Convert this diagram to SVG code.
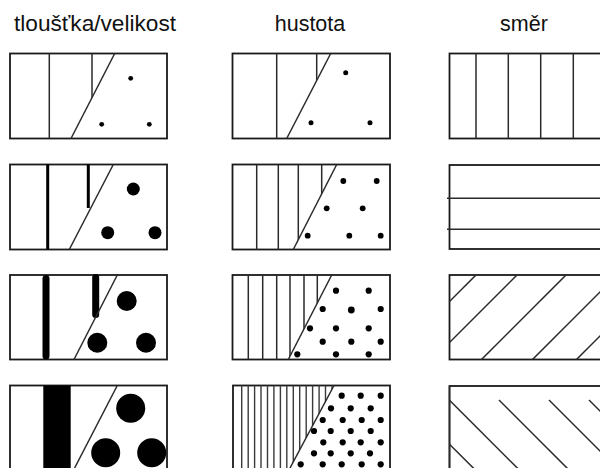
<svg xmlns="http://www.w3.org/2000/svg" width="600" height="468" viewBox="0 0 600 468">
<style>
.box{fill:none;stroke:#1a1a1a;stroke-width:1.8}
.ln{stroke:#2a2a2a;stroke-width:1.5;fill:none}
.dot{fill:#000}
.hd{font-family:"Liberation Sans",Arial,sans-serif;font-size:21.5px;fill:#111;text-anchor:middle}
</style>
<defs>
<clipPath id="c11"><polygon points="10,53.5 114.7,53.5 71,138.5 10,138.5"/></clipPath>
<clipPath id="c12"><polygon points="10,164.5 113.3,164.5 69.3,249.5 10,249.5"/></clipPath>
<clipPath id="c13"><polygon points="10,275 117.3,275 74,359.5 10,359.5"/></clipPath>
<clipPath id="c21"><polygon points="232.5,53.5 330.7,53.5 286.7,138.5 232.5,138.5"/></clipPath>
<clipPath id="c22"><polygon points="232.5,164.5 336.7,164.5 293.3,249.5 232.5,249.5"/></clipPath>
<clipPath id="c23"><polygon points="232.5,275 331.7,275 288.3,359.5 232.5,359.5"/></clipPath>
<clipPath id="c24"><polygon points="233,385.5 334,385.5 290,468 233,468"/></clipPath>
<clipPath id="c33"><rect x="449.5" y="275" width="157" height="84.5"/></clipPath>
<clipPath id="c34"><rect x="449.5" y="386" width="157" height="90"/></clipPath>
</defs>
<text class="hd" x="95" y="31" textLength="162" lengthAdjust="spacingAndGlyphs">tloušťka/velikost</text>
<text class="hd" x="310" y="31">hustota</text>
<text class="hd" x="524" y="31">směr</text>

<g id="tl1">
<rect class="box" x="10" y="53.5" width="157" height="85"/>
<g clip-path="url(#c11)"><line class="ln" x1="49.3" y1="53" x2="49.3" y2="139"/><line class="ln" x1="92" y1="53" x2="92" y2="139"/></g>
<line class="ln" x1="114.7" y1="53.5" x2="71" y2="138.5"/>
<circle class="dot" cx="130.7" cy="78.3" r="2.4"/><circle class="dot" cx="101.7" cy="124.3" r="2.4"/><circle class="dot" cx="149.3" cy="124.3" r="2.4"/>
</g>
<g id="tl2">
<rect class="box" x="10" y="164.5" width="157" height="85"/>
<line style="stroke:#000;stroke-width:3" x1="47.7" y1="164.5" x2="47.7" y2="249.5"/>
<line style="stroke:#000;stroke-width:3" x1="88.3" y1="164.5" x2="88.3" y2="208"/>
<line class="ln" x1="113.3" y1="164.5" x2="69.3" y2="249.5"/>
<circle class="dot" cx="133.3" cy="189" r="6.5"/><circle class="dot" cx="107.7" cy="232.7" r="6.5"/><circle class="dot" cx="155" cy="232.7" r="6.5"/>
</g>
<g id="tl3">
<rect class="box" x="10" y="275" width="157" height="84.5"/>
<rect x="42.5" y="275" width="7" height="84.5" rx="3.5" fill="#000"/>
<rect x="92.2" y="274" width="7" height="44" rx="3.5" fill="#000"/>
<line class="ln" x1="117.3" y1="275" x2="74" y2="359.5"/>
<circle class="dot" cx="126.7" cy="301" r="10"/><circle class="dot" cx="97.3" cy="342.7" r="10"/><circle class="dot" cx="146" cy="342.7" r="10"/>
</g>
<g id="tl4">
<rect class="box" x="10" y="385.5" width="157" height="90"/>
<rect x="43.3" y="385.5" width="27.4" height="90" fill="#000"/>
<line class="ln" x1="117.3" y1="385.5" x2="74.6" y2="468"/>
<circle class="dot" cx="130.7" cy="408.3" r="14.5"/><circle class="dot" cx="105.7" cy="452.7" r="14.5"/><circle class="dot" cx="151.7" cy="452.7" r="14.5"/>
</g>

<g id="hu1">
<rect class="box" x="232.5" y="53.5" width="157.5" height="85"/>
<g clip-path="url(#c21)"><line class="ln" x1="276.7" y1="53" x2="276.7" y2="140"/><line class="ln" x1="316.7" y1="53" x2="316.7" y2="140"/></g>
<line class="ln" x1="330.7" y1="53.5" x2="286.7" y2="138.5"/>
<circle class="dot" cx="345.7" cy="72.7" r="2.5"/><circle class="dot" cx="311" cy="122.7" r="2.5"/><circle class="dot" cx="370" cy="122.7" r="2.5"/>
</g>
<g id="hu2">
<rect class="box" x="232.5" y="164.5" width="157.5" height="85"/>
<g clip-path="url(#c22)"><line class="ln" x1="256.7" y1="164" x2="256.7" y2="250"/><line class="ln" x1="278.3" y1="164" x2="278.3" y2="250"/><line class="ln" x1="298.3" y1="164" x2="298.3" y2="250"/><line class="ln" x1="321.7" y1="164" x2="321.7" y2="250"/></g>
<line class="ln" x1="336.7" y1="164.5" x2="293.3" y2="249.5"/>
<circle class="dot" cx="343.3" cy="181" r="2.9"/><circle class="dot" cx="376.7" cy="181" r="2.9"/><circle class="dot" cx="326.7" cy="208.3" r="2.9"/><circle class="dot" cx="362.7" cy="208.3" r="2.9"/><circle class="dot" cx="307.7" cy="235.7" r="2.9"/><circle class="dot" cx="349.3" cy="235.7" r="2.9"/><circle class="dot" cx="380.7" cy="235.7" r="2.9"/>
</g>
<g id="hu3">
<rect class="box" x="232.5" y="275" width="157.5" height="84.5"/>
<g clip-path="url(#c23)"><line class="ln" x1="248.3" y1="275" x2="248.3" y2="360"/><line class="ln" x1="262.7" y1="275" x2="262.7" y2="360"/><line class="ln" x1="276.7" y1="275" x2="276.7" y2="360"/><line class="ln" x1="290" y1="275" x2="290" y2="360"/><line class="ln" x1="304" y1="275" x2="304" y2="360"/><line class="ln" x1="317.3" y1="275" x2="317.3" y2="360"/></g>
<line class="ln" x1="331.7" y1="275" x2="288.3" y2="359.5"/>
<circle class="dot" cx="336" cy="290.7" r="3.1"/><circle class="dot" cx="368.7" cy="290.7" r="3.1"/><circle class="dot" cx="322.7" cy="309" r="3.1"/><circle class="dot" cx="351.3" cy="310" r="3.4"/><circle class="dot" cx="380.7" cy="309" r="3.1"/><circle class="dot" cx="310" cy="328.3" r="3.1"/><circle class="dot" cx="336" cy="328.3" r="3.1"/><circle class="dot" cx="368.7" cy="328.3" r="3.1"/><circle class="dot" cx="322.7" cy="341.7" r="3.1"/><circle class="dot" cx="351.3" cy="341.7" r="3.1"/><circle class="dot" cx="380.7" cy="341.7" r="3.1"/><circle class="dot" cx="297.3" cy="354.3" r="3.1"/><circle class="dot" cx="336" cy="354.3" r="3.1"/><circle class="dot" cx="368.7" cy="354.3" r="3.1"/>
</g>
<g id="hu4">
<rect class="box" x="233" y="385.5" width="157" height="90"/>
<g clip-path="url(#c24)" class="ln" style="stroke-width:1.4;stroke:#3a3a3a">
<line x1="241.7" y1="385" x2="241.7" y2="470"/><line x1="248.2" y1="385" x2="248.2" y2="470"/><line x1="254.6" y1="385" x2="254.6" y2="470"/><line x1="261" y1="385" x2="261" y2="470"/><line x1="267.5" y1="385" x2="267.5" y2="470"/><line x1="273.9" y1="385" x2="273.9" y2="470"/><line x1="280.4" y1="385" x2="280.4" y2="470"/><line x1="286.8" y1="385" x2="286.8" y2="470"/><line x1="293.3" y1="385" x2="293.3" y2="470"/><line x1="299.7" y1="385" x2="299.7" y2="470"/><line x1="306.2" y1="385" x2="306.2" y2="470"/><line x1="312.6" y1="385" x2="312.6" y2="470"/><line x1="319.1" y1="385" x2="319.1" y2="470"/><line x1="325.5" y1="385" x2="325.5" y2="470"/><line x1="332" y1="385" x2="332" y2="470"/>
</g>
<line class="ln" x1="334" y1="385.5" x2="290" y2="468"/>
<g class="dot">
<circle cx="341.7" cy="395.7" r="3.1"/><circle cx="360.7" cy="395.7" r="3.1"/><circle cx="380.7" cy="395.7" r="3.1"/>
<circle cx="331" cy="408.3" r="3.1"/><circle cx="350.7" cy="408.3" r="3.1"/><circle cx="370.7" cy="408.3" r="3.1"/>
<circle cx="322.7" cy="420" r="3.1"/><circle cx="342.7" cy="420" r="3.1"/><circle cx="361.7" cy="420" r="3.1"/><circle cx="380.7" cy="420" r="3.1"/>
<circle cx="314" cy="431" r="3.1"/><circle cx="330.7" cy="431" r="3.1"/><circle cx="350.7" cy="431" r="3.1"/><circle cx="370.7" cy="431" r="3.1"/>
<circle cx="323.3" cy="442.3" r="3.1"/><circle cx="342.7" cy="442.3" r="3.1"/><circle cx="360.7" cy="442.3" r="3.1"/><circle cx="380.7" cy="442.3" r="3.1"/>
<circle cx="314" cy="453.3" r="3.1"/><circle cx="330.7" cy="453.3" r="3.1"/><circle cx="350.7" cy="453.3" r="3.1"/><circle cx="370" cy="453.3" r="3.1"/>
<circle cx="300.7" cy="464.3" r="3.1"/><circle cx="322.7" cy="464.3" r="3.1"/><circle cx="341.7" cy="464.3" r="3.1"/><circle cx="361.7" cy="464.3" r="3.1"/><circle cx="380.7" cy="464.3" r="3.1"/>
</g>
</g>

<g id="sm1">
<rect class="box" x="449.5" y="53.5" width="157" height="85"/>
<line class="ln" x1="476" y1="53.5" x2="476" y2="138.5"/><line class="ln" x1="508.3" y1="53.5" x2="508.3" y2="138.5"/><line class="ln" x1="540.7" y1="53.5" x2="540.7" y2="138.5"/><line class="ln" x1="573.3" y1="53.5" x2="573.3" y2="138.5"/>
</g>
<g id="sm2">
<rect class="box" x="449.5" y="165" width="157" height="84"/>
<line class="ln" x1="447" y1="198.3" x2="607" y2="198.3"/><line class="ln" x1="447" y1="229.3" x2="607" y2="229.3"/>
</g>
<g id="sm3">
<rect class="box" x="449.5" y="275" width="157" height="84.5"/>
<g clip-path="url(#c33)">
<line class="ln" x1="351" y1="400" x2="551" y2="200"/><line class="ln" x1="392" y1="400" x2="592" y2="200"/><line class="ln" x1="441" y1="400" x2="641" y2="200"/><line class="ln" x1="492" y1="400" x2="692" y2="200"/><line class="ln" x1="536" y1="400" x2="736" y2="200"/>
</g>
</g>
<g id="sm4">
<rect class="box" x="449.5" y="386" width="157" height="90"/>
<g clip-path="url(#c34)">
<line class="ln" x1="405.3" y1="400" x2="505.3" y2="500"/><line class="ln" x1="449.3" y1="400" x2="549.3" y2="500"/><line class="ln" x1="499" y1="400" x2="599" y2="500"/><line class="ln" x1="549" y1="400" x2="649" y2="500"/><line class="ln" x1="589" y1="400" x2="689" y2="500"/>
</g>
<line class="ln" x1="449.5" y1="386" x2="449.5" y2="476"/>
</g>
</svg>
